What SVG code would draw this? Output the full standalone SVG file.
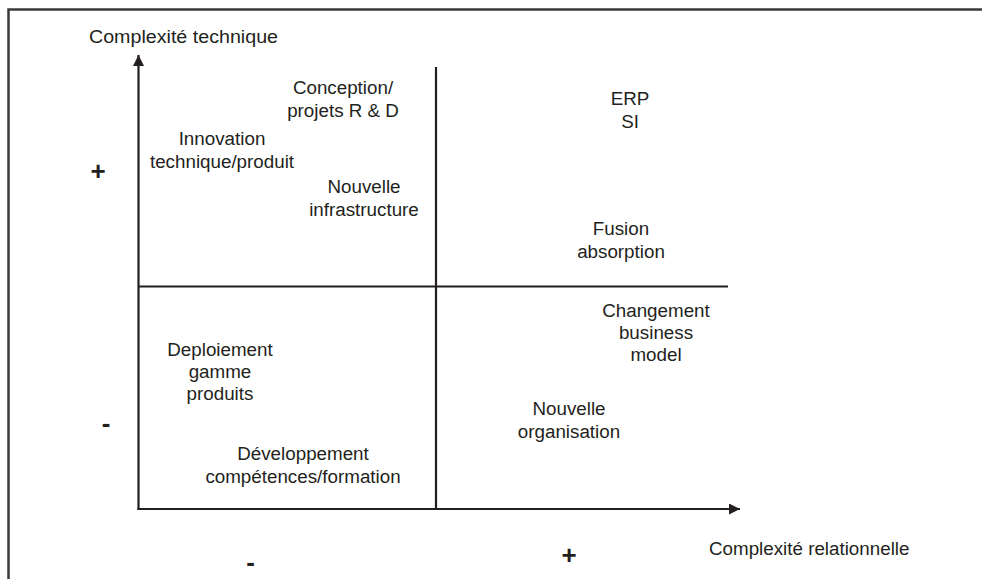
<svg xmlns="http://www.w3.org/2000/svg" width="982" height="579" viewBox="0 0 982 579">
  <style>
    text { font-family: "Liberation Sans", Arial, sans-serif; font-size: 18.8px; fill: #231f20; }
    .c { text-anchor: middle; }
    .sign { font-weight: bold; font-size: 26px; }
    .axis { stroke: #231f20; stroke-width: 2.2; fill: none; }
    .frame { stroke: #3a3a3a; stroke-width: 2.5; fill: none; }
  </style>
  <defs>
    <marker id="arrow" viewBox="0 0 10 10" refX="10" refY="5" markerWidth="7.5" markerHeight="5" markerUnits="strokeWidth" orient="auto">
      <path d="M0,0 L10,5 L0,10 Z" fill="#231f20"/>
    </marker>
  </defs>
  <rect width="982" height="579" fill="#ffffff"/>
  <!-- outer frame -->
  <path class="frame" d="M8.5,579 V9.5 H982"/>

  <!-- axes and quadrant lines -->
  <g id="connectors">
    <line class="axis" x1="138.5" y1="510" x2="138.5" y2="55" marker-end="url(#arrow)"/>
    <line class="axis" x1="137.5" y1="509" x2="740" y2="509" marker-end="url(#arrow)"/>
    <line class="axis" x1="436" y1="67" x2="436" y2="509"/>
    <line class="axis" x1="138.5" y1="286.5" x2="728" y2="286.5"/>
  </g>

  <!-- axis titles and signs -->
  <g id="axis-labels">
    <text x="89" y="42.5" textLength="189" lengthAdjust="spacingAndGlyphs">Complexité technique</text>
    <text x="709" y="555">Complexité relationnelle</text>
    <text class="sign c" x="98" y="180">+</text>
    <text class="sign c" x="106" y="431.5">-</text>
    <text class="sign c" x="250.5" y="570.5">-</text>
    <text class="sign c" x="569" y="564">+</text>
  </g>

  <g id="conception">
    <text class="c" x="343" y="94">Conception/</text>
    <text class="c" x="343" y="117">projets R &amp; D</text>
  </g>
  <g id="innovation">
    <text class="c" x="222" y="145">Innovation</text>
    <text class="c" x="222" y="168">technique/produit</text>
  </g>
  <g id="infrastructure">
    <text class="c" x="364" y="193">Nouvelle</text>
    <text class="c" x="364" y="216">infrastructure</text>
  </g>
  <g id="erp">
    <text class="c" x="630" y="105">ERP</text>
    <text class="c" x="630" y="128">SI</text>
  </g>
  <g id="fusion">
    <text class="c" x="621" y="235">Fusion</text>
    <text class="c" x="621" y="258">absorption</text>
  </g>
  <g id="business-model">
    <text class="c" x="656" y="317">Changement</text>
    <text class="c" x="656" y="339">business</text>
    <text class="c" x="656" y="361">model</text>
  </g>
  <g id="deploiement">
    <text class="c" x="220" y="356">Deploiement</text>
    <text class="c" x="220" y="378">gamme</text>
    <text class="c" x="220" y="400">produits</text>
  </g>
  <g id="organisation">
    <text class="c" x="569" y="415">Nouvelle</text>
    <text class="c" x="569" y="438">organisation</text>
  </g>
  <g id="developpement">
    <text class="c" x="303" y="460">Développement</text>
    <text class="c" x="303" y="483">compétences/formation</text>
  </g>
</svg>
